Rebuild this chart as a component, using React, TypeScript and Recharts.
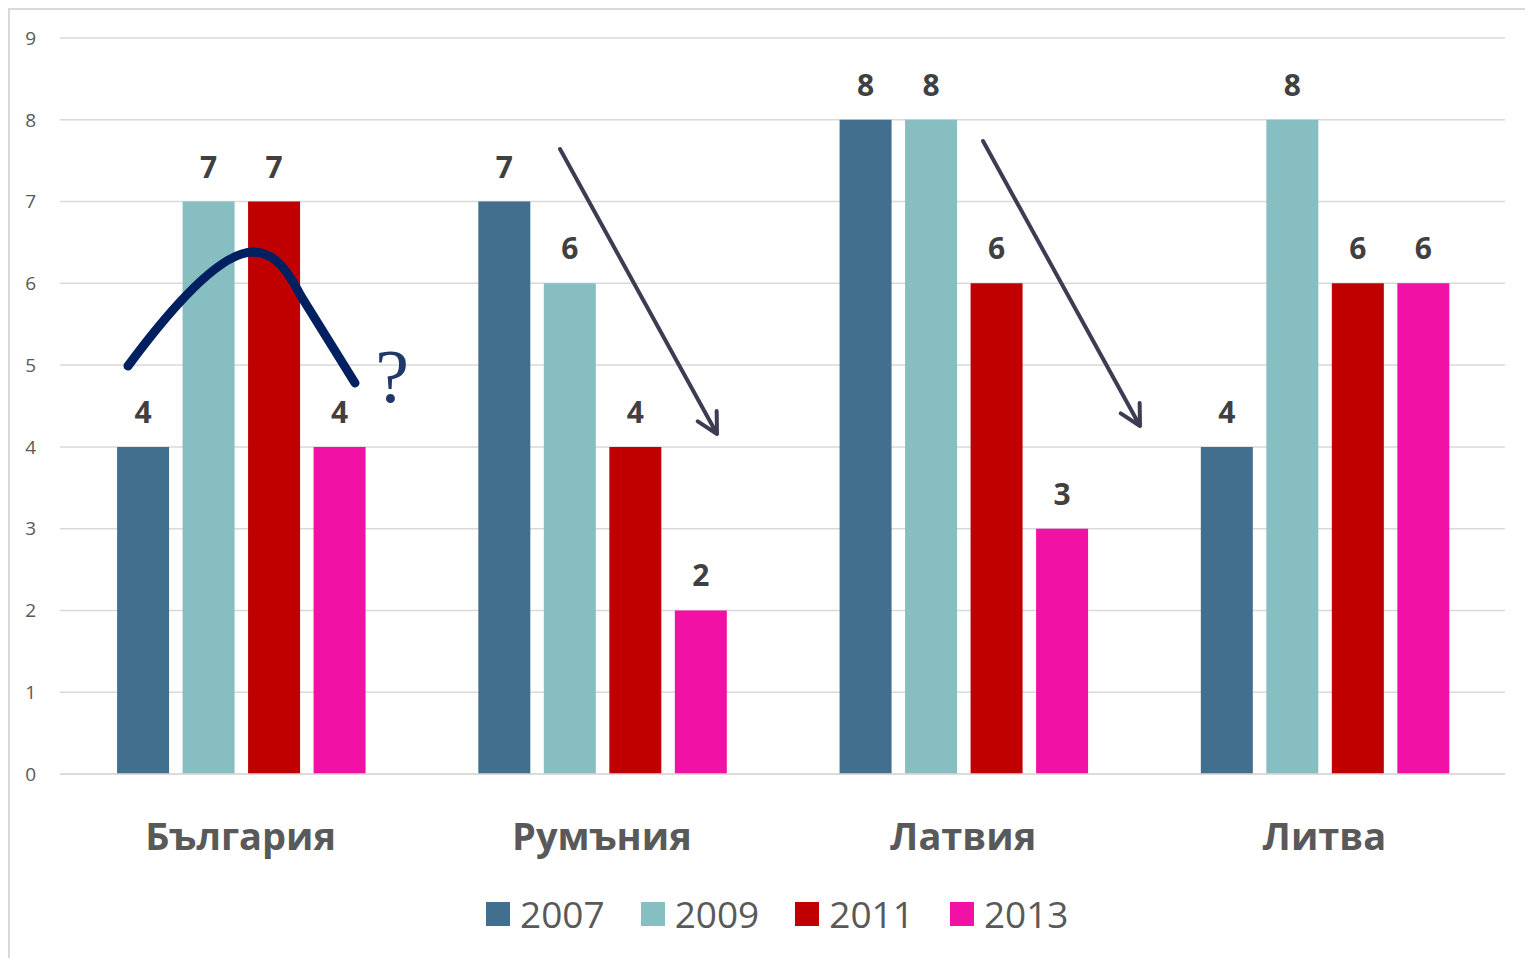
import React from 'react';
import { BarChart, Bar, XAxis, YAxis, CartesianGrid, LabelList } from 'recharts';

const categories = ['България', 'Румъния', 'Латвия', 'Литва'];
const values2007 = [4, 7, 8, 4];
const values2009 = [7, 6, 8, 8];
const values2011 = [7, 4, 6, 6];
const values2013 = [4, 2, 3, 6];
const years = ['2007', '2009', '2011', '2013'];
const seriesKeys = ['y2007', 'y2009', 'y2011', 'y2013'];
const colors = ['#436f8e', '#86bec2', '#c00000', '#f211a5'];
const yTicks = [0, 1, 2, 3, 4, 5, 6, 7, 8, 9];

const data = categories.map((name, i) => ({
  name,
  y2007: values2007[i],
  y2009: values2009[i],
  y2011: values2011[i],
  y2013: values2013[i],
}));

const FONT = '"Open Sans", "Noto Sans", sans-serif';

const CategoryTick = (props: any) => {
  const { x, y, payload } = props;
  return (
    <text x={x} y={y} dy={76} textAnchor="middle" fill="#595959" fontSize={38} fontWeight="bold" fontFamily={FONT}>
      {payload.value}
    </text>
  );
};

function arrow(x1: number, y1: number, x2: number, y2: number) {
  const ang = Math.atan2(y2 - y1, x2 - x1);
  const back = ang + Math.PI;
  const len = 23;
  const spread = (28 * Math.PI) / 180;
  const ax = x2 + len * Math.cos(back - spread);
  const ay = y2 + len * Math.sin(back - spread);
  const bx = x2 + len * Math.cos(back + spread);
  const by = y2 + len * Math.sin(back + spread);
  return `M${x1},${y1} L${x2},${y2} M${ax},${ay} L${x2},${y2} L${bx},${by}`;
}

const Annotations = () => (
  <svg
    width={1523}
    height={948}
    style={{ position: 'absolute', left: 0, top: 0, pointerEvents: 'none' }}
  >
    <path
      d="M118,356 C155,306 208,242 243,242 C265,243 276,258 291,286 L345,373"
      fill="none"
      stroke="#002060"
      strokeWidth={9}
      strokeLinecap="round"
    />
    <text x={382} y={392} textAnchor="middle" fill="#1f3869" fontSize={76} fontFamily='"Liberation Serif", "DejaVu Serif", serif'>
      ?
    </text>
    <path d={arrow(550, 139, 707, 424)} fill="none" stroke="#3c3c52" strokeWidth={4} strokeLinecap="round" strokeLinejoin="round" />
    <path d={arrow(973, 131, 1130, 416)} fill="none" stroke="#3c3c52" strokeWidth={4} strokeLinecap="round" strokeLinejoin="round" />
  </svg>
);

export default function App() {
  return (
    <div
      style={{
        position: 'relative',
        width: 1525,
        height: 950,
        boxSizing: 'border-box',
        borderLeft: '2px solid #d9d9d9',
        borderTop: '2px solid #d9d9d9',
        background: '#ffffff',
        fontFamily: FONT,
      }}
    >
      <style>{`body{overflow:hidden;background:#ffffff}`}</style>
      <BarChart
        width={1523}
        height={948}
        data={data}
        margin={{ top: 28, right: 28, bottom: 0, left: 0 }}
        barCategoryGap="15.8%"
        barGap={13.5}
      >
        <CartesianGrid vertical={false} stroke="#d9d9d9" strokeWidth={1.5} />
        <XAxis
          dataKey="name"
          height={184}
          tickLine={false}
          tickSize={0}
          tickMargin={0}
          axisLine={{ stroke: '#d9d9d9', strokeWidth: 1.5 }}
          tick={<CategoryTick />}
          interval={0}
        />
        <YAxis
          width={50}
          domain={[0, 9]}
          ticks={yTicks}
          interval={0}
          tickLine={false}
          axisLine={false}
          tickSize={0}
          tickMargin={24}
          tick={{ fill: '#595959', fontSize: 19, fontFamily: FONT }}
        />
        {seriesKeys.map((k, i) => (
          <Bar key={k} dataKey={k} name={years[i]} fill={colors[i]} isAnimationActive={false}>
            <LabelList
              dataKey={k}
              position="top"
              offset={24}
              fill="#404040"
              fontSize={30}
              fontWeight="bold"
              fontFamily={FONT}
            />
          </Bar>
        ))}
      </BarChart>
      <Annotations />
      <div
        style={{
          position: 'absolute',
          left: 476,
          top: 880,
          display: 'flex',
          alignItems: 'center',
          gap: 36,
          whiteSpace: 'nowrap',
        }}
      >
        {years.map((y, i) => (
          <div key={y} style={{ display: 'flex', alignItems: 'center', gap: 10 }}>
            <div style={{ width: 24, height: 24, background: colors[i] }} />
            <span style={{ fontSize: 37, color: '#595959', lineHeight: '48px' }}>{y}</span>
          </div>
        ))}
      </div>
    </div>
  );
}
